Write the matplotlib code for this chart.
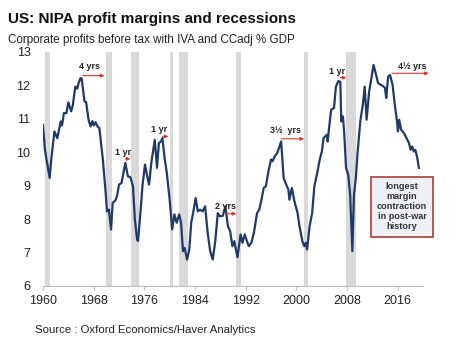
import numpy as np
import matplotlib.pyplot as plt

plt.rcParams['font.family'] = ['Liberation Sans', 'DejaVu Sans']

# profit margin series (year, % of GDP)
years = [1960.0, 1960.3, 1961.05, 1961.3, 1961.8, 1962.25, 1962.8, 1963.0, 1963.3, 1963.7,
         1964.0, 1964.45, 1964.7, 1965.1, 1965.4, 1965.6, 1965.9, 1966.1, 1966.55, 1966.8,
         1967.2, 1967.5, 1967.8, 1968.0, 1968.3, 1968.6, 1968.9, 1969.45, 1969.9, 1970.1,
         1970.4, 1970.75, 1971.0, 1971.4, 1971.7, 1972.0, 1972.4, 1972.6, 1973.0, 1973.4,
         1973.8, 1974.2, 1974.5, 1974.85, 1975.0, 1975.3, 1975.7, 1976.1, 1976.4, 1976.75,
         1977.1, 1977.65, 1978.0, 1978.3, 1978.65, 1978.85, 1979.2, 1979.55, 1980.0, 1980.4,
         1980.75, 1981.1, 1981.5, 1981.8, 1982.1, 1982.35, 1982.75, 1983.1, 1983.4, 1983.8,
         1984.1, 1984.45, 1984.8, 1985.2, 1985.6, 1986.0, 1986.4, 1986.8, 1987.2, 1987.6,
         1987.95, 1988.4, 1988.8, 1989.2, 1989.55, 1989.9, 1990.2, 1990.7, 1991.2, 1991.5,
         1991.85, 1992.2, 1992.5, 1992.9, 1993.3, 1993.8, 1994.15, 1994.5, 1994.85, 1995.2,
         1995.6, 1996.0, 1996.25, 1996.6, 1997.0, 1997.6, 1998.0, 1998.4, 1998.75, 1998.9,
         1999.3, 1999.7, 2000.2, 2000.5, 2000.95, 2001.25, 2001.5, 2001.7, 2002.1, 2002.5,
         2002.85, 2003.3, 2003.7, 2004.05, 2004.3, 2004.8, 2004.95, 2005.2, 2005.5, 2005.95,
         2006.25, 2006.65, 2006.95, 2007.1, 2007.35, 2007.55, 2007.85, 2008.2, 2008.5, 2008.85,
         2009.1, 2009.4, 2009.65, 2010.1, 2010.5, 2010.8, 2011.1, 2011.5, 2011.9, 2012.2,
         2012.6, 2012.9, 2013.3, 2013.75, 2014.0, 2014.2, 2014.5, 2014.8, 2015.2, 2015.55,
         2015.9, 2016.05, 2016.25, 2016.55, 2017.0, 2017.4, 2017.8, 2018.05, 2018.3, 2018.55,
         2018.8, 2019.1, 2019.35]
margin = [10.82, 10.07, 9.23, 9.78, 10.62, 10.42, 10.92, 10.8, 11.17, 11.17,
          11.49, 11.22, 11.4, 11.96, 11.9, 12.06, 12.21, 12.21, 11.52, 11.5,
          10.97, 10.77, 10.93, 10.8, 10.9, 10.77, 10.72, 9.78, 8.78, 8.23,
          8.28, 7.69, 8.48, 8.55, 8.7, 9.03, 9.08, 9.28, 9.68, 9.28,
          9.25, 8.98, 8.0, 7.39, 7.34, 7.99, 8.98, 9.63, 9.33, 9.03,
          9.68, 10.37, 9.53, 10.27, 10.33, 10.42, 9.83, 9.38, 8.58, 7.69,
          8.14, 7.89, 8.14, 7.89, 7.04, 7.14, 6.79, 7.09, 7.89, 8.28,
          8.63, 8.23, 8.28, 8.23, 8.38, 7.59, 7.04, 6.79, 7.34, 8.18,
          8.08, 8.1, 8.38, 7.79, 7.64, 7.19, 7.34, 6.86, 7.54, 7.29,
          7.54, 7.34, 7.19, 7.29, 7.59, 8.18, 8.28, 8.58, 8.93, 8.98,
          9.43, 9.78, 9.73, 9.88, 9.98, 10.32, 9.23, 9.03, 8.88, 8.58,
          8.93, 8.53, 8.18, 7.79, 7.34, 7.19, 7.29, 7.09, 7.79, 8.18,
          8.98, 9.38, 9.78, 10.03, 10.42, 10.52, 10.32, 10.77, 11.27, 11.32,
          11.96, 12.13, 12.1, 10.92, 11.07, 10.62, 9.53, 9.33, 8.73, 7.04,
          8.73, 9.23, 9.93, 10.92, 11.42, 11.96, 10.97, 11.81, 12.26, 12.61,
          12.31, 12.07, 12.02, 11.97, 11.92, 11.62, 12.26, 12.31, 12.02, 11.42,
          10.92, 10.62, 10.97, 10.67, 10.57, 10.42, 10.27, 10.07, 10.17, 10.02,
          10.07, 9.83, 9.53]

# US recessions (start, end)
rec_start = [1960.3, 1969.9, 1973.85, 1980.0, 1981.5, 1990.5, 2001.2, 2007.9]
rec_end = [1961.1, 1970.85, 1975.2, 1980.5, 1982.85, 1991.2, 2001.85, 2009.45]

# lead-time labels: text, text position, arrow start/end
lead_text = ['4 yrs', '1 yr', '1 yr', '2 yrs', '3½  yrs', '1 yr', '4½ yrs']
lead_x = [1967.4, 1972.6, 1978.4, 1988.8, 1998.3, 2006.5, 2018.3]
lead_y = [12.55, 9.98, 10.67, 8.38, 10.64, 12.42, 12.56]
arrow_x0 = [1966.3, 1973.0, 1978.9, 1988.9, 1997.6, 2007.0, 2015.1]
arrow_x1 = [1969.7, 1973.8, 1979.8, 1990.5, 2001.2, 2007.9, 2020.9]
arrow_y = [12.29, 9.8, 10.47, 8.16, 10.4, 12.23, 12.36]

fig = plt.figure(figsize=(4.6, 3.53), dpi=100)
ax = fig.add_axes([0.0935, 0.19, 0.826, 0.663])

for a, b in zip(rec_start, rec_end):
    ax.axvspan(a, b, color='#d9d9d9', lw=0, zorder=0)

ax.plot(years, margin, color='#1f3a68', lw=1.6, zorder=3)

for t, tx, ty, x0, x1, y in zip(lead_text, lead_x, lead_y, arrow_x0, arrow_x1, arrow_y):
    ax.text(tx, ty, t, fontsize=6.5, fontweight='bold', ha='center', va='center', color='#222222')
    ax.annotate('', xy=(x1, y), xytext=(x0, y), annotation_clip=False,
                arrowprops=dict(arrowstyle='-|>', color='#d9352c', lw=0.8,
                                mutation_scale=5, shrinkA=0, shrinkB=0))

# comment box
ax.text(2016.7, 8.37, 'longest\nmargin\ncontraction\nin post-war\nhistory',
        fontsize=6.6, fontweight='bold', ha='center', va='center', color='#333333',
        linespacing=1.15, zorder=4,
        bbox=dict(boxstyle='square,pad=0.6', fc='#eef0f7', ec='#b03a3a', lw=1.2))

ax.set_xlim(1960, 2020)
ax.set_ylim(6, 13)
ax.set_xticks(np.arange(1960, 2020, 8))
ax.set_yticks(np.arange(6, 14, 1))
ax.tick_params(axis='both', labelsize=9, colors='#222222')
ax.tick_params(axis='y', length=0, pad=9)
ax.tick_params(axis='x', length=3, color='#bfbfbf')
for s in ['top', 'right', 'left']:
    ax.spines[s].set_visible(False)
ax.spines['bottom'].set_color('#bfbfbf')

fig.text(0.017, 0.945, 'US: NIPA profit margins and recessions', fontsize=11,
         fontweight='bold', color='#111111', va='center')
fig.text(0.017, 0.888, 'Corporate profits before tax with IVA and CCadj % GDP',
         fontsize=8.4, color='#222222', va='center')
fig.text(0.076, 0.065, 'Source : Oxford Economics/Haver Analytics', fontsize=8.2,
         color='#222222', va='center')

fig.savefig('out.png', dpi=100)
